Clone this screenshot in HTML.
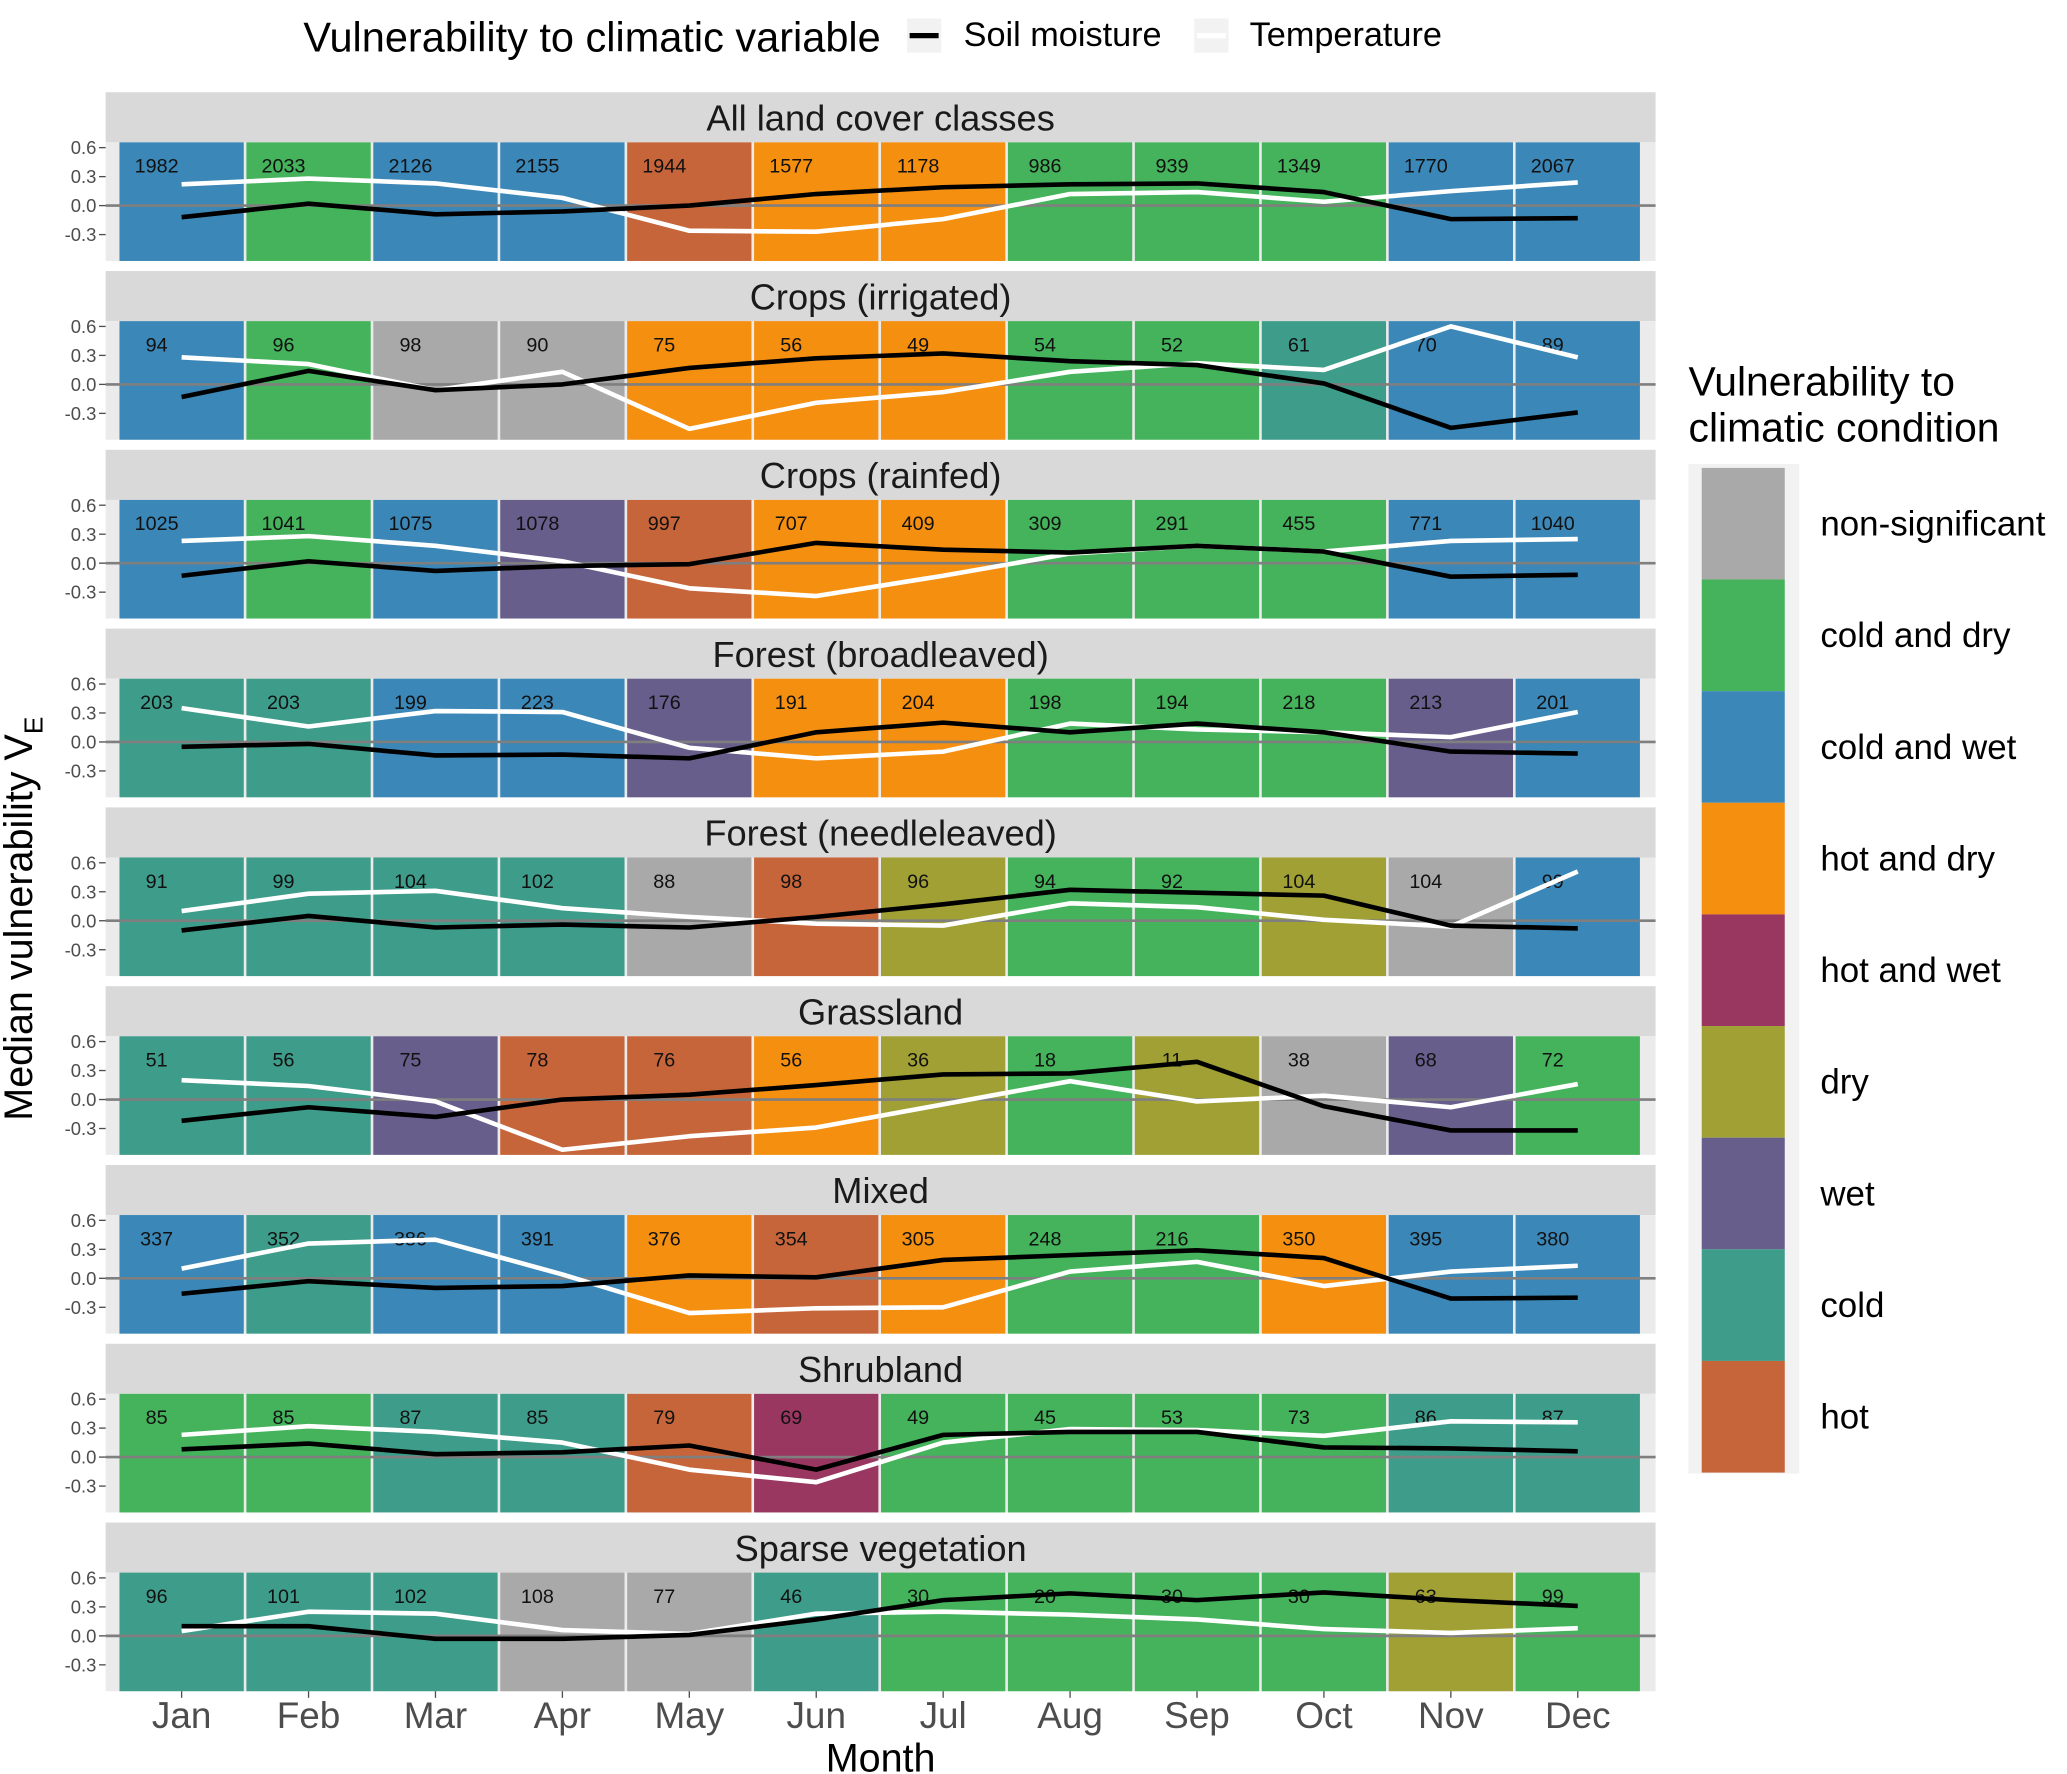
<!DOCTYPE html>
<html><head><meta charset="utf-8"><style>
body{margin:0;background:#fff}
svg{display:block;font-family:"Liberation Sans",Arial,sans-serif}
</style></head><body>
<svg id="chart" width="2067" height="1774" viewBox="0 0 1568 1346" xmlns="http://www.w3.org/2000/svg"></svg>
<script>
const months=["Jan","Feb","Mar","Apr","May","Jun","Jul","Aug","Sep","Oct","Nov","Dec"];
const panelTitles=["All land cover classes","Crops (irrigated)","Crops (rainfed)","Forest (broadleaved)","Forest (needleleaved)","Grassland","Mixed","Shrubland","Sparse vegetation"];
const categories=["non-significant","cold and dry","cold and wet","hot and dry","hot and wet","dry","wet","cold","hot"];
const catColors={"ns":"#a9a9a9","cd":"#44b35b","cw":"#3a87b8","hd":"#f58f10","hw":"#9a3761","dry":"#a0a035","wet":"#675e8c","cold":"#3e9c8a","hot":"#c7653a"};
const catKeys=["ns","cd","cw","hd","hw","dry","wet","cold","hot"];
const tileCats=[
["cw","cd","cw","cw","hot","hd","hd","cd","cd","cd","cw","cw"],
["cw","cd","ns","ns","hd","hd","hd","cd","cd","cold","cw","cw"],
["cw","cd","cw","wet","hot","hd","hd","cd","cd","cd","cw","cw"],
["cold","cold","cw","cw","wet","hd","hd","cd","cd","cd","wet","cw"],
["cold","cold","cold","cold","ns","hot","dry","cd","cd","dry","ns","cw"],
["cold","cold","wet","hot","hot","hd","dry","cd","dry","ns","wet","cd"],
["cw","cold","cw","cw","hd","hot","hd","cd","cd","hd","cw","cw"],
["cd","cd","cold","cold","hot","hw","cd","cd","cd","cd","cold","cold"],
["cold","cold","cold","ns","ns","cold","cd","cd","cd","cd","dry","cd"]];
const counts=[
[1982,2033,2126,2155,1944,1577,1178,986,939,1349,1770,2067],
[94,96,98,90,75,56,49,54,52,61,70,89],
[1025,1041,1075,1078,997,707,409,309,291,455,771,1040],
[203,203,199,223,176,191,204,198,194,218,213,201],
[91,99,104,102,88,98,96,94,92,104,104,99],
[51,56,75,78,76,56,36,18,11,38,68,72],
[337,352,386,391,376,354,305,248,216,350,395,380],
[85,85,87,85,79,69,49,45,53,73,86,87],
[96,101,102,108,77,46,30,20,30,30,63,99]];
const soil=[
[-0.12,0.02,-0.09,-0.06,0.0,0.12,0.19,0.22,0.23,0.14,-0.14,-0.13],
[-0.13,0.14,-0.06,0.0,0.17,0.27,0.32,0.24,0.2,0.01,-0.45,-0.29],
[-0.13,0.02,-0.08,-0.03,-0.01,0.21,0.14,0.11,0.18,0.12,-0.14,-0.12],
[-0.05,-0.02,-0.14,-0.13,-0.17,0.1,0.2,0.1,0.19,0.1,-0.1,-0.12],
[-0.1,0.05,-0.07,-0.04,-0.07,0.04,0.17,0.32,0.29,0.26,-0.05,-0.08],
[-0.22,-0.08,-0.18,0.0,0.05,0.15,0.26,0.27,0.39,-0.07,-0.32,-0.32],
[-0.16,-0.03,-0.1,-0.08,0.03,0.01,0.19,0.24,0.29,0.21,-0.21,-0.2],
[0.08,0.14,0.03,0.05,0.12,-0.13,0.23,0.26,0.26,0.1,0.09,0.06],
[0.1,0.1,-0.03,-0.03,0.01,0.17,0.37,0.44,0.37,0.45,0.37,0.31]];
const temp=[
[0.22,0.28,0.23,0.08,-0.26,-0.27,-0.14,0.12,0.14,0.04,0.15,0.24],
[0.28,0.21,-0.06,0.13,-0.46,-0.19,-0.08,0.13,0.22,0.15,0.6,0.28],
[0.23,0.28,0.18,0.02,-0.26,-0.34,-0.13,0.1,0.18,0.12,0.23,0.25],
[0.35,0.16,0.32,0.31,-0.06,-0.17,-0.1,0.19,0.13,0.1,0.05,0.31],
[0.1,0.28,0.31,0.13,0.04,-0.03,-0.05,0.18,0.14,0.01,-0.06,0.51],
[0.2,0.14,-0.02,-0.52,-0.38,-0.29,-0.05,0.19,-0.02,0.04,-0.08,0.16],
[0.1,0.36,0.4,0.04,-0.36,-0.31,-0.3,0.07,0.17,-0.08,0.07,0.13],
[0.23,0.32,0.26,0.15,-0.13,-0.26,0.15,0.29,0.28,0.22,0.37,0.36],
[0.05,0.25,0.23,0.06,0.02,0.23,0.25,0.22,0.17,0.07,0.03,0.08]];
const yTicks=[0.6,0.3,0.0,-0.3];
const yTickLabels=["0.6","0.3","0.0","-0.3"];

const NS="http://www.w3.org/2000/svg";
const svg=document.getElementById('chart');
function mk(tag,attrs,parent,text){const e=document.createElementNS(NS,tag);for(const k in attrs)e.setAttribute(k,attrs[k]);if(text!==undefined)e.textContent=text;(parent||svg).appendChild(e);return e;}
const panelX0=80,panelX1=1256,colX0=89.5,colW=96.3;
const xc=i=>colX0+colW*(i+0.5);
const panelStep=135.65,stripTop0=70,stripH=38,dataH=90;
const yScale=73.3;
function yOf(p,v){return stripTop0+p*panelStep+stripH+48-v*yScale;}

for(let p=0;p<panelTitles.length;p++){
  const g=mk('g',{});
  
  
  const st=stripTop0+p*panelStep;
  const strip=mk('rect',{x:panelX0,y:st,width:panelX1-panelX0,height:stripH,fill:'#d9d9d9'},g);
  
  
  const tt=mk('text',{x:(panelX0+panelX1)/2,y:st+29,'text-anchor':'middle','font-size':27.5,fill:'#1a1a1a'},g,panelTitles[p]);
  
  
  const dt=st+stripH;
  mk('rect',{x:panelX0,y:dt,width:panelX1-panelX0,height:dataH,fill:'#ebebeb'},g);
  for(let i=0;i<12;i++){
    const r=mk('rect',{x:colX0+colW*i+1,y:dt,width:colW-2,height:dataH,fill:catColors[tileCats[p][i]]},g);
    
    
  }
  for(let k=0;k<yTicks.length;k++){
    const y=yOf(p,yTicks[k]);
    if(yTicks[k]===0) mk('line',{x1:panelX0,x2:panelX1,y1:y,y2:y,stroke:'#7f7f7f','stroke-width':2},g);
    const tl=mk('text',{x:73,y:y+5,'text-anchor':'end','font-size':14,fill:'#4d4d4d'},g,yTickLabels[k]);
    
    
    mk('line',{x1:75,x2:80,y1:y,y2:y,stroke:'#4d4d4d','stroke-width':1},g);
  }
  for(let i=0;i<12;i++){
    const t=mk('text',{x:xc(i)-19,y:dt+23,'text-anchor':'middle','font-size':15,fill:'#111'},g,String(counts[p][i]));
    
    
  }
  const tp=temp[p].map((v,i)=>xc(i)+','+yOf(p,v)).join(' ');
  const tl=mk('polyline',{points:tp,fill:'none',stroke:'#fff','stroke-width':3.5,'stroke-linejoin':'round'},g);
  
  
  const sp=soil[p].map((v,i)=>xc(i)+','+yOf(p,v)).join(' ');
  const sl=mk('polyline',{points:sp,fill:'none',stroke:'#000','stroke-width':3.5,'stroke-linejoin':'round'},g);
  
  
}
const lastBottom=stripTop0+8*panelStep+stripH+dataH;
for(let i=0;i<12;i++){
  mk('line',{x1:xc(i),x2:xc(i),y1:lastBottom,y2:lastBottom+5,stroke:'#4d4d4d'});
  const t=mk('text',{x:xc(i),y:lastBottom+28,'text-anchor':'middle','font-size':28,fill:'#4d4d4d'},undefined,months[i]);
  
  
}
const xt=mk('text',{x:668,y:1344,'text-anchor':'middle','font-size':30,fill:'#000'},undefined,'Month');


const yt=mk('text',{x:0,y:0,'text-anchor':'middle','font-size':30,fill:'#000',transform:'translate(24,697) rotate(-90)'});


yt.appendChild(document.createTextNode('Median vulnerability V'));
mk('tspan',{'font-size':20,dy:8},yt,'E');
const lg=mk('g',{});


mk('text',{x:230,y:39,'font-size':31.5,fill:'#000'},lg,'Vulnerability to climatic variable');
mk('rect',{x:688,y:14,width:26,height:26,fill:'#f2f2f2'},lg);
mk('line',{x1:690,x2:712,y1:27,y2:27,stroke:'#000','stroke-width':4},lg);
const e1=mk('text',{x:731,y:35,'font-size':26,fill:'#000'},lg,'Soil moisture');


mk('rect',{x:906,y:14,width:26,height:26,fill:'#f2f2f2'},lg);
mk('line',{x1:908,x2:930,y1:27,y2:27,stroke:'#fff','stroke-width':4},lg);
const e2=mk('text',{x:948,y:35,'font-size':26,fill:'#000'},lg,'Temperature');


const rg=mk('g',{});


mk('text',{x:1281,y:300,'font-size':31,fill:'#000'},rg,'Vulnerability to');
mk('text',{x:1281,y:335,'font-size':31,fill:'#000'},rg,'climatic condition');
mk('rect',{x:1281,y:352,width:84,height:766,fill:'#f2f2f2'},rg);
const kh=84.7;
for(let k=0;k<categories.length;k++){
  const y=355+k*kh;
  mk('rect',{x:1291,y:y,width:63,height:kh,fill:catColors[catKeys[k]]},rg);
  const t=mk('text',{x:1381,y:y+kh/2+9,'font-size':26.5,fill:'#000'},rg,categories[k]);
  
  
}
</script>
</body></html>
